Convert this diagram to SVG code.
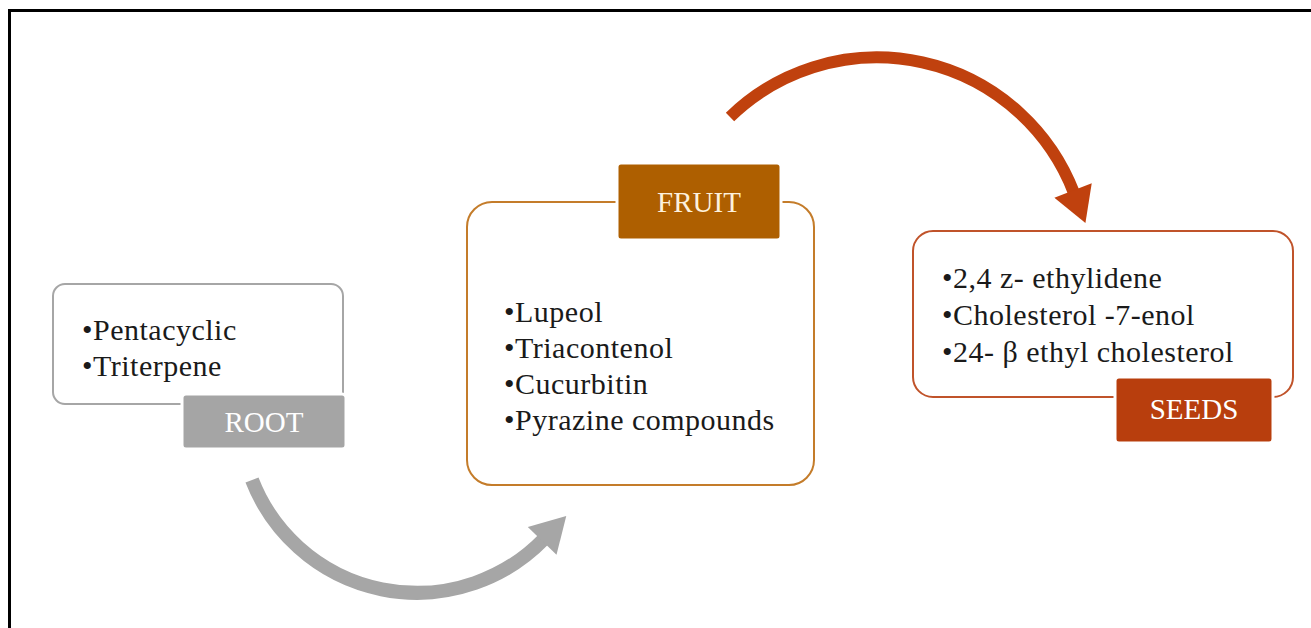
<svg xmlns="http://www.w3.org/2000/svg" width="1311" height="628" viewBox="0 0 1311 628">
  <defs>
    <style>
      .item { font-family: "Liberation Serif", "Times New Roman", serif; font-size: 30px; fill: #1a1a1a; letter-spacing: 0.5px; }
      .lbl { font-family: "Liberation Serif", "Times New Roman", serif; font-size: 29px; text-anchor: middle; }
      .tag { stroke: #ffffff; stroke-width: 3; }
    </style>
    <marker id="headGray" markerUnits="userSpaceOnUse" markerWidth="40" markerHeight="40" refX="2" refY="15" orient="auto" viewBox="0 0 26 30">
      <polygon points="0,0 26,15 0,30" fill="#a6a6a6"/>
    </marker>
    <marker id="headRed" markerUnits="userSpaceOnUse" markerWidth="40" markerHeight="40" refX="2" refY="15" orient="auto" viewBox="0 0 26 30">
      <polygon points="0,0 26,15 0,30" fill="#c0410e"/>
    </marker>
  </defs>
  <rect x="0" y="0" width="1311" height="628" fill="#ffffff"/>
  <rect x="9.5" y="10.5" width="1400" height="700" fill="none" stroke="#000000" stroke-width="3"/>

  <g id="connectors">
    <path d="M252,480 A177,177 0 0 0 544,539" fill="none" stroke="#a6a6a6" stroke-width="14" marker-end="url(#headGray)"/>
    <path d="M730,117 A211,211 0 0 1 1074,193" fill="none" stroke="#c0410e" stroke-width="12" marker-end="url(#headRed)"/>
  </g>

  <g id="root">
    <rect x="53" y="284" width="290" height="120" rx="12" fill="#ffffff" stroke="#a6a6a6" stroke-width="2"/>
    <text class="item" x="82" y="340">•Pentacyclic</text>
    <text class="item" x="82" y="376">•Triterpene</text>
    <rect class="tag" x="182" y="394" width="164" height="55" rx="4" fill="#a5a5a5"/>
    <text class="lbl" x="264" y="432" fill="#ffffff">ROOT</text>
  </g>

  <g id="fruit">
    <rect x="467" y="202" width="347" height="283" rx="25" fill="#ffffff" stroke="#c47c2a" stroke-width="2"/>
    <rect class="tag" x="617" y="163" width="164" height="77" rx="4" fill="#ae5f00"/>
    <text class="lbl" x="699" y="212" fill="#fdf1dd">FRUIT</text>
    <text class="item" x="504" y="322">•Lupeol</text>
    <text class="item" x="504" y="358">•Triacontenol</text>
    <text class="item" x="504" y="394">•Cucurbitin</text>
    <text class="item" x="504" y="430">•Pyrazine compounds</text>
  </g>

  <g id="seeds">
    <rect x="913" y="231" width="380" height="166" rx="20" fill="#ffffff" stroke="#c0532a" stroke-width="2"/>
    <text class="item" x="942" y="288">•2,4 z- ethylidene</text>
    <text class="item" x="942" y="325">•Cholesterol -7-enol</text>
    <text class="item" x="942" y="362">•24- β ethyl cholesterol</text>
    <rect class="tag" x="1115" y="377" width="158" height="66" rx="4" fill="#b83e0d"/>
    <text class="lbl" x="1194" y="419" fill="#ffffff">SEEDS</text>
  </g>
</svg>
